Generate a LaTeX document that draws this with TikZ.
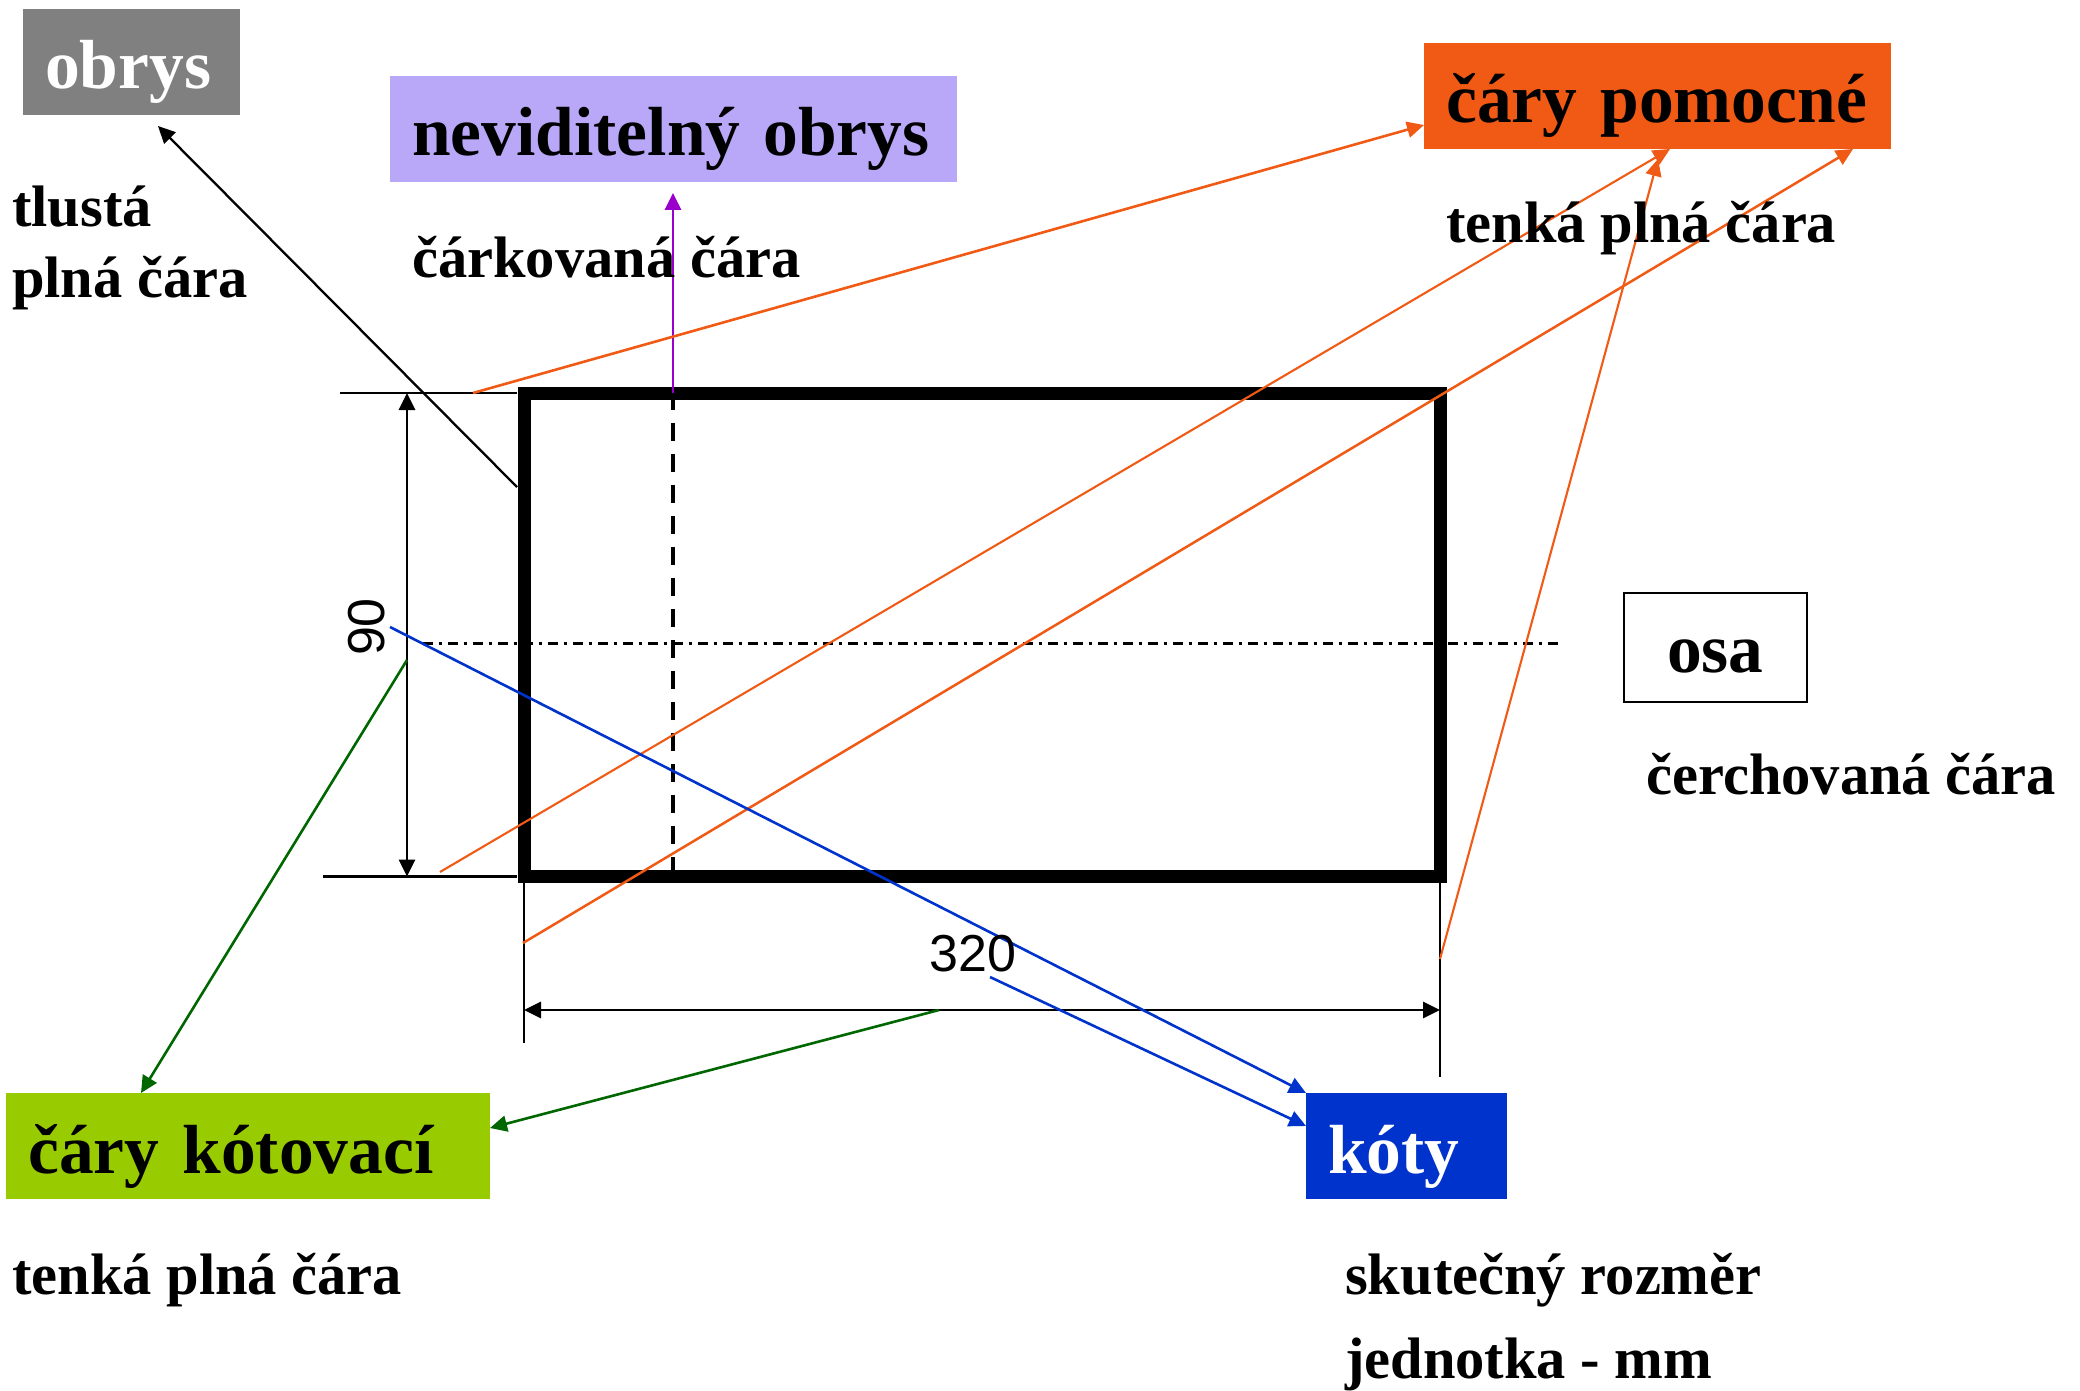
\documentclass[tikz,border=0pt]{standalone}
\usepackage{fontspec}
\setmainfont{Liberation Serif}
\newfontfamily\dimfont{Liberation Sans}
\usetikzlibrary{arrows.meta}
\definecolor{orangeC}{HTML}{F05A14}
\definecolor{limeC}{HTML}{99CC00}
\definecolor{blueC}{HTML}{0033CC}
\definecolor{lilacC}{HTML}{B9A7F8}
\definecolor{purpleC}{HTML}{9900CC}
\definecolor{greenC}{HTML}{006600}
\definecolor{grayC}{HTML}{808080}
\newcommand{\bigfs}{\fontsize{69.5}{76}\selectfont\bfseries}
\newcommand{\smallfs}{\fontsize{58.5}{64}\selectfont\bfseries}
\tikzset{
  titlebox/.style={anchor=north west,inner ysep=0pt,inner xsep=22pt,align=left,font=\bigfs},
  caption/.style={anchor=base west,inner sep=0pt,font=\smallfs},
  dimtext/.style={inner sep=0pt,font=\dimfont\fontsize{52}{56}\selectfont},
  outline/.style={line width=13pt,draw=black,miter limit=10},
  dimline/.style={line width=2.8pt,draw=black},
  tipped/.style={-{Triangle[length=17pt,width=16pt]}},
  bothtips/.style={{Triangle[length=17pt,width=16pt]}-{Triangle[length=17pt,width=16pt]}},
  leader/.style={line width=#1,tipped},
  leader/.default=2.6pt
}
\begin{document}
\begin{tikzpicture}[x=1pt,y=-1pt]
\useasboundingbox (0,0) rectangle (2080,1391);

% coordinates
\coordinate (rtl) at (524,393);
\coordinate (rbr) at (1440,876.5);
\coordinate (tlA) at (340,393);
\coordinate (tlB) at (517,393);
\coordinate (blA) at (323,876.5);
\coordinate (blB) at (517,876.5);
\coordinate (vtop) at (407,393);
\coordinate (vbot) at (407,876.5);
\coordinate (hleft) at (524,1010);
\coordinate (hright) at (1440,1010);
\coordinate (extLa) at (524,883);
\coordinate (extLb) at (524,1043);
\coordinate (extRa) at (1440,883);
\coordinate (extRb) at (1440,1077);
\coordinate (dashA) at (673,392);
\coordinate (dashB) at (673,876);
\coordinate (axisA) at (423,643);
\coordinate (axisB) at (1558,643);

\coordinate (obrysTip) at (158,126);
\coordinate (obrysFrom) at (517,487);
\coordinate (purpleFrom) at (673,393);
\coordinate (purpleTip) at (673,193);
\coordinate (oA) at (473,393);
\coordinate (oAtip) at (1424,125);
\coordinate (oB) at (440,872);
\coordinate (oBtip) at (1670,149);
\coordinate (oC) at (523,943);
\coordinate (oCtip) at (1853,149);
\coordinate (oD) at (1440,959);
\coordinate (oDtip) at (1658,159);
\coordinate (bA) at (390,627);
\coordinate (bAtip) at (1306,1093);
\coordinate (bB) at (990,977);
\coordinate (bBtip) at (1306,1126);
\coordinate (gA) at (407,660);
\coordinate (gAtip) at (141,1093);
\coordinate (gB) at (939,1010);
\coordinate (gBtip) at (490,1128);

% drawing outline and dimensions
\draw[dimline] (tlA) -- (tlB);
\draw[dimline] (blA) -- (blB);
\draw[dimline] (extLa) -- (extLb);
\draw[dimline] (extRa) -- (extRb);
\draw[dimline,bothtips] (vtop) -- (vbot);
\draw[dimline,bothtips] (hleft) -- (hright);
\draw[line width=4.6pt,dash pattern=on 18.3pt off 12.7pt] (dashA) -- (dashB);
\draw[line width=3pt,dash pattern=on 10pt off 5.7pt on 3.6pt off 5.7pt] (axisA) -- (axisB);
\draw[outline] (rtl) rectangle (rbr);

% leaders
\draw[leader=2.3pt,black] (obrysFrom) -- (obrysTip);
\draw[leader=2.8pt,purpleC] (purpleFrom) -- (purpleTip);
\draw[leader,orangeC] (oA) -- (oAtip);
\draw[leader=2.1pt,orangeC] (oB) -- (oBtip);
\draw[leader=2.5pt,orangeC] (oC) -- (oCtip);
\draw[leader=2.1pt,orangeC] (oD) -- (oDtip);
\draw[leader,blueC] (bA) -- (bAtip);
\draw[leader,blueC] (bB) -- (bBtip);
\draw[leader,greenC] (gA) -- (gAtip);
\draw[leader,greenC] (gB) -- (gBtip);

% title boxes: top-left corner, text width = box width - 44, text height = baseline offset
\node[titlebox,fill=grayC,text=white,text width=173pt,text height=79pt,text depth=27pt] (obrys) at (23,9) {obrys};
\node[titlebox,fill=lilacC,text=black,text width=523pt,text height=79pt,text depth=27pt] (nevid) at (390,76) {neviditelný obrys};
\node[titlebox,fill=orangeC,text=black,text width=423pt,text height=79pt,text depth=27pt] (pomoc) at (1424,43) {čáry pomocné};
\node[titlebox,fill=limeC,text=black,text width=440pt,text height=80pt,text depth=26pt] (kotov) at (6,1093) {čáry kótovací};
\node[titlebox,fill=blueC,text=white,text width=157pt,text height=80pt,text depth=26pt] (koty) at (1306,1093) {kóty};
\node[titlebox,draw=black,line width=2pt,fill=white,text=black,inner xsep=43pt,text width=97pt,text height=79pt,text depth=30pt] (osa) at (1623,592) {osa};

% captions
\node[caption] (c1) at (12,227) {tlustá};
\node[caption] (c2) at (12,297) {plná čára};
\node[caption] (c3) at (412,277) {čárkovaná čára};
\node[caption] (c4) at (1446,243) {tenká plná čára};
\node[caption] (c5) at (1646,794) {čerchovaná čára};
\node[caption] (c6) at (12,1294) {tenká plná čára};
\node[caption] (c7) at (1345,1294) {skutečný rozměr};
\node[caption] (c8) at (1345,1378) {jednotka - mm};

% dimensions
\node[dimtext,anchor=base] (d320) at (973,971) {320};
\node[dimtext,anchor=base,rotate=90] (d90) at (384,627) {90};
\end{tikzpicture}
\end{document}
